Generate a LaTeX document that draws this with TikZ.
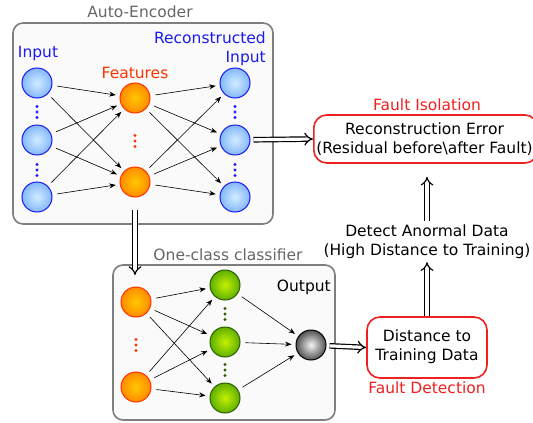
\documentclass[tikz,border=0pt]{standalone}
\usepackage{fontspec}
\setmainfont{DejaVu Sans}
\usetikzlibrary{arrows.meta,calc}
\definecolor{lblue}{HTML}{1A1AF0}
\definecolor{lred}{HTML}{F02020}
\definecolor{forange}{HTML}{FF3300}
\definecolor{boxgray}{HTML}{7F7F7F}
\definecolor{titlegray}{HTML}{666666}
\definecolor{bin}{HTML}{D2ECFF}
\definecolor{bout}{HTML}{84B8FA}
\definecolor{oin}{HTML}{FFC800}
\definecolor{oout}{HTML}{FF8A00}
\definecolor{gin}{HTML}{C4F000}
\definecolor{gout}{HTML}{5EB000}
\definecolor{gdark}{HTML}{2E5E00}
\tikzset{
  txt/.style={font=\fontsize{15.5}{19}\selectfont, inner sep=0pt, align=center},
  neuron/.style={circle, minimum size=30pt, inner sep=0pt, line width=1pt},
  bluen/.style={neuron, draw=lblue, inner color=bin, outer color=bout},
  orangen/.style={neuron, draw=forange, inner color=oin, outer color=oout},
  greenn/.style={neuron, draw=gdark, inner color=gin, outer color=gout},
  grayn/.style={neuron, draw=black, inner color=black!4, outer color=black!68},
  group/.style={draw=boxgray, line width=1.6pt, rounded corners=10pt, fill=black!2},
  redbox/.style={draw=lred, line width=1.6pt, rounded corners=13pt, fill=white},
  arr/.style={-{Stealth[length=6.5pt,width=5pt]}, line width=0.6pt, shorten <=5pt, shorten >=4pt},
  dbl/.style={double, double distance=3.2pt, line width=1.2pt, -{Implies}},
}
\newcommand{\vdotsat}[3]{%
  \fill[#3] (#1,#2-5.5) circle (1.7) (#1,#2) circle (1.7) (#1,#2+5.5) circle (1.7);}
\begin{document}
\begin{tikzpicture}[x=1pt,y=-1pt]
\useasboundingbox (0,0) rectangle (533,423);
% Auto-encoder box
\draw[group] (13,23) rectangle (273,224);
\node[txt, text=titlegray] (aetitle) at (140,12) {Auto-Encoder};
% OCC box
\draw[group] (113,265) rectangle (335,420);
\node[txt, text=titlegray] (occtitle) at (228,255) {One-class classifier};

% AE neurons
\node[bluen] (i1) at (37,83) {};
\node[bluen] (i2) at (37,140) {};
\node[bluen] (i3) at (37,197) {};
\node[orangen] (f1) at (135,98) {};
\node[orangen] (f2) at (135,182) {};
\node[bluen] (r1) at (235,83) {};
\node[bluen] (r2) at (235,140) {};
\node[bluen] (r3) at (235,197) {};
\vdotsat{37}{112}{lblue}
\vdotsat{37}{170}{lblue}
\vdotsat{235}{112}{lblue}
\vdotsat{235}{170}{lblue}
\vdotsat{135}{141}{forange}
\node[txt, text=lblue] (linput) at (38,53) {Input};
\node[txt, text=forange] (lfeat) at (135,73) {Features};
\node[txt, text=lblue, anchor=east] (lrec) at (266,38) {Reconstructed};
\node[txt, text=lblue, anchor=east] (lrecin) at (266,58) {Input};
\foreach \a in {i1,i2,i3}{\foreach \b in {f1,f2}{\draw[arr] (\a) -- (\b);}}
\foreach \a in {f1,f2}{\foreach \b in {r1,r2,r3}{\draw[arr] (\a) -- (\b);}}

% OCC neurons
\node[orangen] (o1) at (136,302) {};
\node[orangen] (o2) at (136,387) {};
\node[greenn] (g1) at (225,285) {};
\node[greenn] (g2) at (225,342) {};
\node[greenn] (g3) at (225,398) {};
\node[grayn] (out) at (311,345) {};
\vdotsat{136}{345}{forange}
\vdotsat{225}{314}{gdark}
\vdotsat{225}{370}{gdark}
\node[txt, anchor=east] (lout) at (331,287) {Output};
\foreach \a in {o1,o2}{\foreach \b in {g1,g2,g3}{\draw[arr] (\a) -- (\b);}}
\foreach \a in {g1,g2,g3}{\draw[arr] (\a) -- (out);}

% Right side boxes
\node[redbox, minimum width=224pt, minimum height=48pt, anchor=west] (iso) at (313,139) {};
\node[txt] (isotext) at (424.5,139) {Reconstruction Error\\(Residual before\textbackslash after Fault)};
\node[txt, text=lred] (isolabel) at (427,105) {Fault Isolation};
\node[txt] (detect) at (427,242) {Detect Anormal Data\\(High Distance to Training)};
\node[redbox, minimum width=120pt, minimum height=61pt] (dist) at (427,347.5) {};
\node[txt] (disttext) at (427,347) {Distance to\\Training Data};
\node[txt, text=lred] (distlabel) at (427,388) {Fault Detection};

% Double arrows
\coordinate (aebot) at (135,210);
\coordinate (occtop) at (135,275);
\draw[dbl] (aebot) -- (occtop);
\draw[dbl, shorten <=3pt] (r2) -- (iso.west);
\draw[dbl, shorten <=3pt] (out) -- (dist.west);
\draw[dbl] (dist.north) -- ++(0,-54);
\draw[dbl] ($(detect.north)+(0,-4)$) -- ++(0,-44);
\end{tikzpicture}
\end{document}
